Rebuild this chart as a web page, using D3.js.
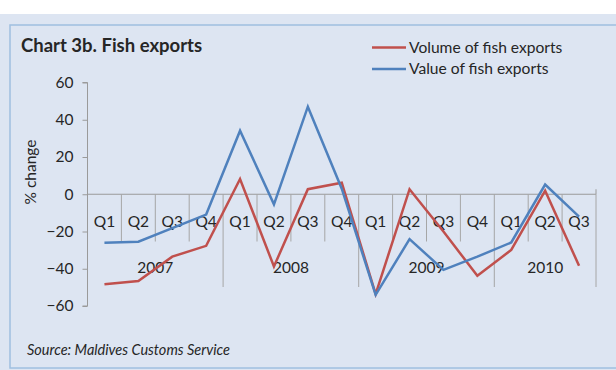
<!DOCTYPE html>
<html><head><meta charset="utf-8">
<script src="https://cdn.jsdelivr.net/npm/d3@7"></script>
<style>body{margin:0;background:#fff}svg{display:block}</style>
</head><body>
<script>
const quarters = ["Q1","Q2","Q3","Q4","Q1","Q2","Q3","Q4","Q1","Q2","Q3","Q4","Q1","Q2","Q3"];
const years = ["2007","2008","2009","2010"];
const yearOf = [0,0,0,0,1,1,1,1,2,2,2,2,3,3,3];
const volume = [-48.3,-46.6,-33.5,-27.7,8.2,-38.8,2.7,6.2,-53.6,2.7,-20,-43.8,-29.9,1.9,-38.4];
const value = [-26.1,-25.5,-18.2,-10.9,34.1,-5.4,47,3,-54,-24.1,-40.6,-33.5,-25.9,5.2,-12];
const yTicks = [60,40,20,0,-20,-40,-60];
const seriesNames = ["Volume of fish exports","Value of fish exports"];
const colors = ["#C0504D","#4F81BD"];

const W=616,H=370;
const font="Lato, 'Open Sans', sans-serif";
const svg=d3.select("body").append("svg").attr("width",W).attr("height",H);
svg.append("rect").attr("x",0).attr("y",14).attr("width",W).attr("height",H-14).attr("fill","#DDE5F2");
svg.append("rect").attr("x",10).attr("y",25).attr("width",620).attr("height",343).attr("fill","none").attr("stroke","#9FBFE0").attr("stroke-width",1.5);

svg.append("text").attr("x",21).attr("y",52).attr("font-family",font).attr("font-weight","bold").attr("font-size",18.5).attr("fill","#262626").text("Chart 3b. Fish exports");

const idx=d3.range(quarters.length);
const x=d3.scaleBand().domain(idx).range([87.5,596]);
const y=d3.scaleLinear().domain([-60,60]).range([306,82.5]);
const g=svg.append("g");

// y axis
const yAxis=d3.axisLeft(y).tickValues(yTicks).tickSize(5).tickPadding(9);
const ya=g.append("g").attr("transform","translate(87.5,0)").call(yAxis);
ya.select(".domain").attr("stroke","#9a9a9a").attr("d","M-5,82.5H0V306H-5");
ya.selectAll(".tick line").attr("stroke","#9a9a9a");
ya.selectAll(".tick text").attr("font-family",font).attr("font-size",15.5).attr("fill","#262626");

// x axis at zero
const y0=y(0);
g.append("line").attr("x1",87.5).attr("x2",596).attr("y1",y0).attr("y2",y0).attr("stroke","#9a9a9a");
g.append("line").attr("x1",596).attr("x2",596).attr("y1",y0-5).attr("y2",y0).attr("stroke","#9a9a9a");
// dividers
const bw=x.bandwidth();
idx.forEach(i=>{
  const xl=x(i);
  const yearStart = i===0 || yearOf[i]!==yearOf[i-1];
  if(i>0) g.append("line").attr("x1",xl).attr("x2",xl).attr("y1",y0).attr("y2",yearStart?287:241.5).attr("stroke","#a6a6a6");
});
g.append("line").attr("x1",596).attr("x2",596).attr("y1",y0).attr("y2",287).attr("stroke","#a6a6a6");
g.selectAll(".q").data(idx).join("text").attr("x",i=>x(i)+bw/2).attr("y",222).attr("dy","0.35em")
  .attr("text-anchor","middle").attr("font-family",font).attr("font-size",15.5).attr("fill","#262626").text(i=>quarters[i]);
years.forEach((yr,k)=>{
  const ids=idx.filter(i=>yearOf[i]===k);
  const cx=(x(ids[0])+x(ids[ids.length-1])+bw)/2;
  g.append("text").attr("x",cx).attr("y",268).attr("dy","0.35em").attr("text-anchor","middle")
   .attr("font-family",font).attr("font-size",15.5).attr("fill","#262626").text(yr);
});

// y label
svg.append("text").attr("transform","translate(31,172) rotate(-90)").attr("text-anchor","middle").attr("dy","0.35em")
  .attr("font-family",font).attr("font-size",15.5).attr("fill","#262626").text("% change");

// lines
const line=d3.line().x((d,i)=>x(i)+bw/2).y(d=>y(d));
[volume,value].forEach((s,k)=>{
  g.append("path").attr("d",line(s)).attr("fill","none").attr("stroke",colors[k]).attr("stroke-width",2.5).attr("stroke-linejoin","miter");
});

// legend
seriesNames.forEach((n,k)=>{
  const ly=47.5+k*21.5;
  svg.append("line").attr("x1",372).attr("x2",406).attr("y1",ly).attr("y2",ly).attr("stroke",colors[k]).attr("stroke-width",2.5);
  svg.append("text").attr("x",409).attr("y",ly).attr("dy","0.35em").attr("font-family",font).attr("font-size",15.6).attr("fill","#262626").text(n);
});

svg.append("text").attr("x",27).attr("y",350).attr("dy","0.35em").attr("font-family",font).attr("font-style","italic").attr("font-size",14.5).attr("fill","#262626").text("Source: Maldives Customs Service");
</script>
</body></html>
